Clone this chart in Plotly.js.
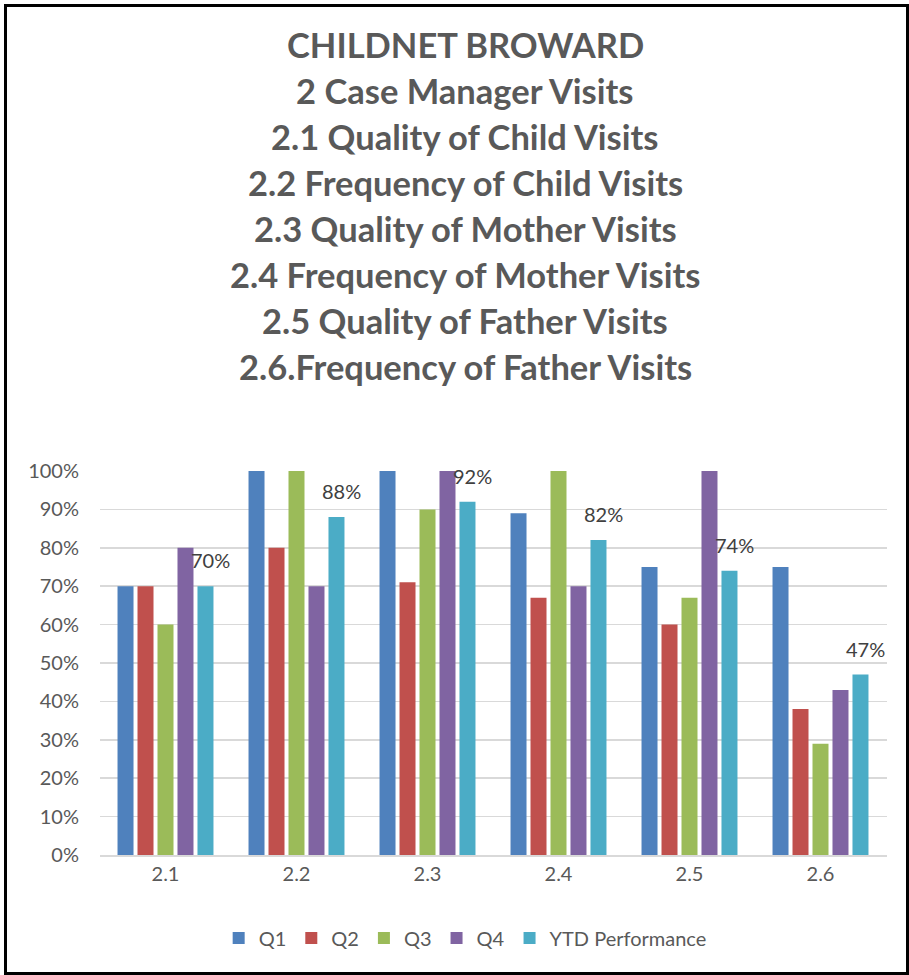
<!DOCTYPE html>
<html><head><meta charset="utf-8">
<script src="https://cdn.plot.ly/plotly-3.0.1.min.js"></script>
<style>
html,body{margin:0;padding:0;background:#fff;}
#wrap{position:relative;width:909px;height:975px;}
#chart{position:absolute;left:0;top:0;width:909px;height:975px;}
#frame{position:absolute;left:4px;top:4px;width:899px;height:965px;border:3px solid #000;pointer-events:none;}
</style></head>
<body><div id="wrap"><div id="chart"></div><div id="frame"></div></div>
<script>
const categories = ["2.1","2.2","2.3","2.4","2.5","2.6"];
const seriesNames = ["Q1","Q2","Q3","Q4","YTD Performance"];
const q1  = [0.70, 1.00, 1.00, 0.89, 0.75, 0.75];
const q2  = [0.70, 0.80, 0.71, 0.67, 0.60, 0.38];
const q3  = [0.60, 1.00, 0.90, 1.00, 0.67, 0.29];
const q4  = [0.80, 0.70, 1.00, 0.70, 1.00, 0.43];
const ytd = [0.70, 0.88, 0.92, 0.82, 0.74, 0.47];
const colors = ["#4F81BD","#C0504D","#9BBB59","#8064A2","#4BACC6"];
const yTicks = [0,0.1,0.2,0.3,0.4,0.5,0.6,0.7,0.8,0.9,1.0];
const titleLines = ["CHILDNET BROWARD","2 Case Manager Visits","2.1 Quality of Child Visits","2.2 Frequency of Child Visits","2.3 Quality of Mother Visits","2.4 Frequency of Mother Visits","2.5 Quality of Father Visits","2.6.Frequency of Father Visits"];

const all = [q1,q2,q3,q4,ytd];
const traces = all.map((vals,i)=>({
  type:"bar", name:seriesNames[i], x:categories, y:vals,
  marker:{color:colors[i]}, hoverinfo:"none"
}));

const font = "Lato, 'Open Sans', sans-serif";
const H = 975, T = 471, B = 120;
const plotH = H - T - B;
const annotations = ytd.map((v,i)=>({
  x:i, y:v, xref:"x", yref:"y",
  text:Math.round(v*100)+"%", showarrow:false,
  xshift:45, yanchor:"bottom", yshift:12,
  font:{family:font,size:20,color:"#404040"}
}));
titleLines.forEach((t,i)=>{
  const ypix = 44 + 46*i;
  annotations.push({
    x:0.464, xref:"paper", xanchor:"center",
    y:(H - B - ypix)/plotH, yref:"paper", yanchor:"middle",
    text:"<b>"+t+"</b>", showarrow:false,
    font:{family:font,size:34.5,color:"#595959"}
  });
});

const layout = {
  width:909, height:975,
  paper_bgcolor:"#fff", plot_bgcolor:"#fff",
  margin:{l:100,r:22,t:T,b:B},
  barmode:"group", bargap:0.237, bargroupgap:0.2,
  xaxis:{type:"category", showgrid:false, showline:true, linecolor:"#d9d9d9", linewidth:1.5,
    ticks:"", tickfont:{family:font,size:20,color:"#595959"}},
  yaxis:{range:[0,1.0], tickvals:yTicks, tickformat:".0%", showgrid:true, gridcolor:"#d9d9d9", gridwidth:1.5,
    zeroline:false, showline:false, ticks:"", ticklen:0, ticklabelstandoff:20,
    tickfont:{family:font,size:20,color:"#595959"}},
  showlegend:true,
  legend:{orientation:"h", x:0.464, xanchor:"center", y:-0.216, yanchor:"middle",
    font:{family:font,size:20,color:"#595959"}, itemwidth:30, traceorder:"normal"},
  annotations:annotations
};
Plotly.newPlot("chart", traces, layout, {displayModeBar:false, staticPlot:true});
</script></body></html>
